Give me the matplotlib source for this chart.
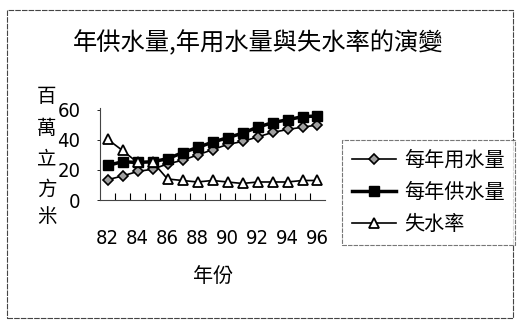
import matplotlib
matplotlib.use("Agg")
import matplotlib.pyplot as plt
from matplotlib.patches import Rectangle
from matplotlib import font_manager as fm
import numpy as np

plt.rcParams['font.family'] = ['Noto Sans CJK TC', 'DejaVu Sans']

years = [82, 83, 84, 85, 86, 87, 88, 89, 90, 91, 92, 93, 94, 95, 96]
year_labels = ['82', '84', '86', '88', '90', '92', '94', '96']
use_water = [13.5, 16, 19, 20.5, 24, 26.5, 30, 33.5, 37, 39, 42, 45, 47, 48.5, 50]
supply_water = [23, 25.5, 25, 25.5, 27.5, 31.5, 35, 38.5, 41.5, 44.5, 48.5, 51.5, 53.5, 55.5, 56]
loss_rate = [40.5, 33, 25, 25.5, 14, 13, 12, 13, 12, 11, 12, 12, 12, 13, 13]
series_names = ['每年用水量', '每年供水量', '失水率']

# narrow digit font if available
digit_fp = None
for f in fm.fontManager.ttflist:
    if 'DejaVuSansCondensed.ttf' in f.fname or f.fname.endswith('DejaVuSansCondensed.ttf'):
        digit_fp = fm.FontProperties(fname=f.fname, size=14.5)
        break
if digit_fp is None:
    import glob
    c = glob.glob('/usr/share/fonts/**/DejaVuSansCondensed.ttf', recursive=True)
    if c:
        digit_fp = fm.FontProperties(fname=c[0], size=14.5)
    else:
        digit_fp = fm.FontProperties(family='DejaVu Sans', size=14)

W, H = 522, 324
fig = plt.figure(figsize=(W / 100, H / 100), dpi=100)
ax = fig.add_axes([100 / W, 1 - 200 / H, 225 / W, 92 / H])

ax.plot(years, use_water, color='black', lw=1.2, marker='D', markersize=5.5,
        markerfacecolor='#a0a0a0', markeredgecolor='black', markeredgewidth=1.2,
        label=series_names[0])
ax.plot(years, supply_water, color='black', lw=2.5, marker='s', markersize=7.5,
        markerfacecolor='black', markeredgecolor='black', label=series_names[1])
ax.plot(years, loss_rate, color='black', lw=1.2, marker='^', markersize=7,
        markerfacecolor='white', markeredgecolor='black', markeredgewidth=1.3,
        label=series_names[2])

ax.set_xlim(81.5, 96.5)
ax.set_ylim(0, 61.3)
ax.set_yticks([0, 20, 40, 60])
ax.set_yticklabels(['0', '20', '40', '60'], fontproperties=digit_fp)
ax.set_xticks([int(s) for s in year_labels])
ax.set_xticklabels(year_labels, fontproperties=digit_fp)
ax.set_xticks(np.arange(82.5, 96.5, 1.0), minor=True)
ax.tick_params(axis='x', which='major', length=0, pad=21)
ax.tick_params(axis='x', which='minor', direction='in', length=5, width=0.8)
ax.tick_params(axis='y', which='major', direction='out', length=2, width=0.6, pad=12)
for s in ['top', 'right']:
    ax.spines[s].set_visible(False)
ax.spines['left'].set_linewidth(0.8)
ax.spines['bottom'].set_linewidth(0.8)
ax.spines['left'].set_color('#444444')
ax.spines['bottom'].set_color('#444444')

fig.text(258 / W, 1 - 43 / H, '年供水量,年用水量與失水率的演變', ha='center', va='center', fontsize=17.5)
fig.text(213 / W, 1 - 276 / H, '年份', ha='center', va='center', fontsize=14.5)
for ch, yy in zip('百萬立方米', [97, 128, 159, 189, 216]):
    fig.text(47 / W, 1 - yy / H, ch, ha='center', va='center', fontsize=14)

leg = fig.legend(loc='upper left', bbox_to_anchor=(342 / W, 1 - 140 / H), fontsize=14.5,
                 handlelength=2.2, handletextpad=0.4, labelspacing=0.55, borderpad=0.5,
                 borderaxespad=0, frameon=True, fancybox=False)
leg.get_frame().set_edgecolor('#555555')
leg.get_frame().set_linewidth(0.8)
leg.get_frame().set_linestyle((0, (4, 1)))

fig.patches.append(Rectangle((7 / W, 1 - 318 / H), 506 / W, 308 / H, transform=fig.transFigure,
                             fill=False, edgecolor='#444444', lw=0.8, linestyle=(0, (5, 1))))

fig.savefig('out.png', dpi=100)
